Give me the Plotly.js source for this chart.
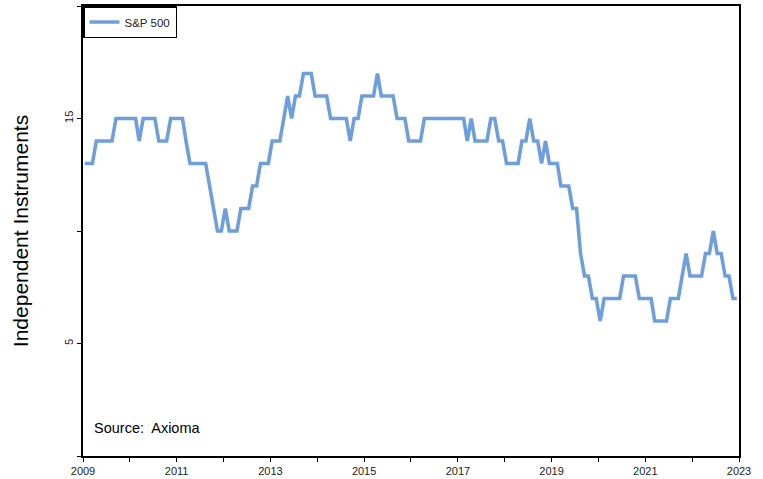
<!DOCTYPE html>
<html>
<head>
<meta charset="utf-8">
<script src="https://cdn.plot.ly/plotly-3.0.1.min.js"></script>
<style>
  html, body { margin: 0; padding: 0; background: #ffffff; }
  #chart { width: 763px; height: 479px; }
</style>
</head>
<body>
<div id="chart"></div>
<script>
// Monthly series, one value per month from Jan 2009 to Dec 2022
const seriesName = 'S&P 500';
const startYear = 2009;
const spValues = [
  13, 13, 13, 14, 14, 14, 14, 14, 15, 15, 15, 15,   // 2009
  15, 15, 14, 15, 15, 15, 15, 14, 14, 14, 15, 15,   // 2010
  15, 15, 14, 13, 13, 13, 13, 13, 12, 11, 10, 10,   // 2011
  11, 10, 10, 10, 11, 11, 11, 12, 12, 13, 13, 13,   // 2012
  14, 14, 14, 15, 16, 15, 16, 16, 17, 17, 17, 16,   // 2013
  16, 16, 16, 15, 15, 15, 15, 15, 14, 15, 15, 16,   // 2014
  16, 16, 16, 17, 16, 16, 16, 16, 15, 15, 15, 14,   // 2015
  14, 14, 14, 15, 15, 15, 15, 15, 15, 15, 15, 15,   // 2016
  15, 15, 14, 15, 14, 14, 14, 14, 15, 15, 14, 14,   // 2017
  13, 13, 13, 13, 14, 14, 15, 14, 14, 13, 14, 13,   // 2018
  13, 13, 12, 12, 12, 11, 11, 9, 8, 8, 7, 7,        // 2019
  6, 7, 7, 7, 7, 7, 8, 8, 8, 8, 7, 7,               // 2020
  7, 7, 6, 6, 6, 6, 7, 7, 7, 8, 9, 8,               // 2021
  8, 8, 8, 9, 9, 10, 9, 9, 8, 8, 7, 7               // 2022
];
const xTickYears = ['2009','2010','2011','2012','2013','2014','2015','2016','2017','2018','2019','2020','2021','2022','2023'];
const xTickLabels = ['2009','','2011','','2013','','2015','','2017','','2019','','2021','','2023'];
const yTickValues = [0, 5, 10, 15, 20];
const yTickLabels = ['', '5', '', '15', ''];
const yTitle = 'Independent Instruments';
const sourceText = 'Source:  Axioma';

function pad(n) { return (n < 10 ? '0' : '') + n; }
const dates = spValues.map(function (v, i) {
  const y = startYear + Math.floor(i / 12);
  const m = (i % 12) + 1;
  return y + '-' + pad(m) + '-15';
});
const xTickVals = xTickYears.map(function (y) { return y + '-01-01'; });

const trace = {
  type: 'scatter',
  mode: 'lines',
  name: seriesName,
  x: dates,
  y: spValues,
  line: { color: '#6f9edc', width: 3.6 },
  showlegend: true
};

const layout = {
  width: 763,
  height: 479,
  paper_bgcolor: '#ffffff',
  plot_bgcolor: '#ffffff',
  margin: { l: 83, r: 24, t: 6, b: 23 },
  font: { family: 'Liberation Sans, Arial, sans-serif', color: '#222222' },
  xaxis: {
    type: 'date',
    range: [xTickVals[0], xTickVals[xTickVals.length - 1]],
    tickmode: 'array',
    tickvals: xTickVals,
    ticktext: xTickLabels,
    ticks: 'outside',
    ticklen: 4,
    tickwidth: 1,
    tickcolor: '#000000',
    tickfont: { size: 11, color: '#222222' },
    showgrid: false,
    zeroline: false,
    showline: true,
    linecolor: '#000000',
    linewidth: 2,
    mirror: true
  },
  yaxis: {
    range: [0, 20],
    tickmode: 'array',
    tickvals: yTickValues,
    ticktext: yTickLabels,
    tickangle: -90,
    ticks: 'outside',
    ticklen: 4,
    tickwidth: 1,
    tickcolor: '#000000',
    tickfont: { size: 11, color: '#222222' },
    showgrid: false,
    zeroline: false,
    showline: true,
    linecolor: '#000000',
    linewidth: 2,
    mirror: true,
    title: { text: yTitle, font: { size: 21, color: '#000000' }, standoff: 28 }
  },
  legend: {
    x: 0, y: 1, xanchor: 'left', yanchor: 'top',
    bgcolor: '#ffffff',
    bordercolor: '#000000',
    borderwidth: 1.5,
    itemwidth: 30,
    font: { size: 11.5, color: '#222222' }
  },
  annotations: [{
    xref: 'paper', yref: 'paper',
    x: 0.0135, y: 0.062,
    xanchor: 'left', yanchor: 'middle',
    text: sourceText,
    showarrow: false,
    font: { family: 'Liberation Sans, Arial, sans-serif', size: 14.5, color: '#000000' }
  }]
};

Plotly.newPlot('chart', [trace], layout, { displayModeBar: false, staticPlot: true });
</script>
</body>
</html>
